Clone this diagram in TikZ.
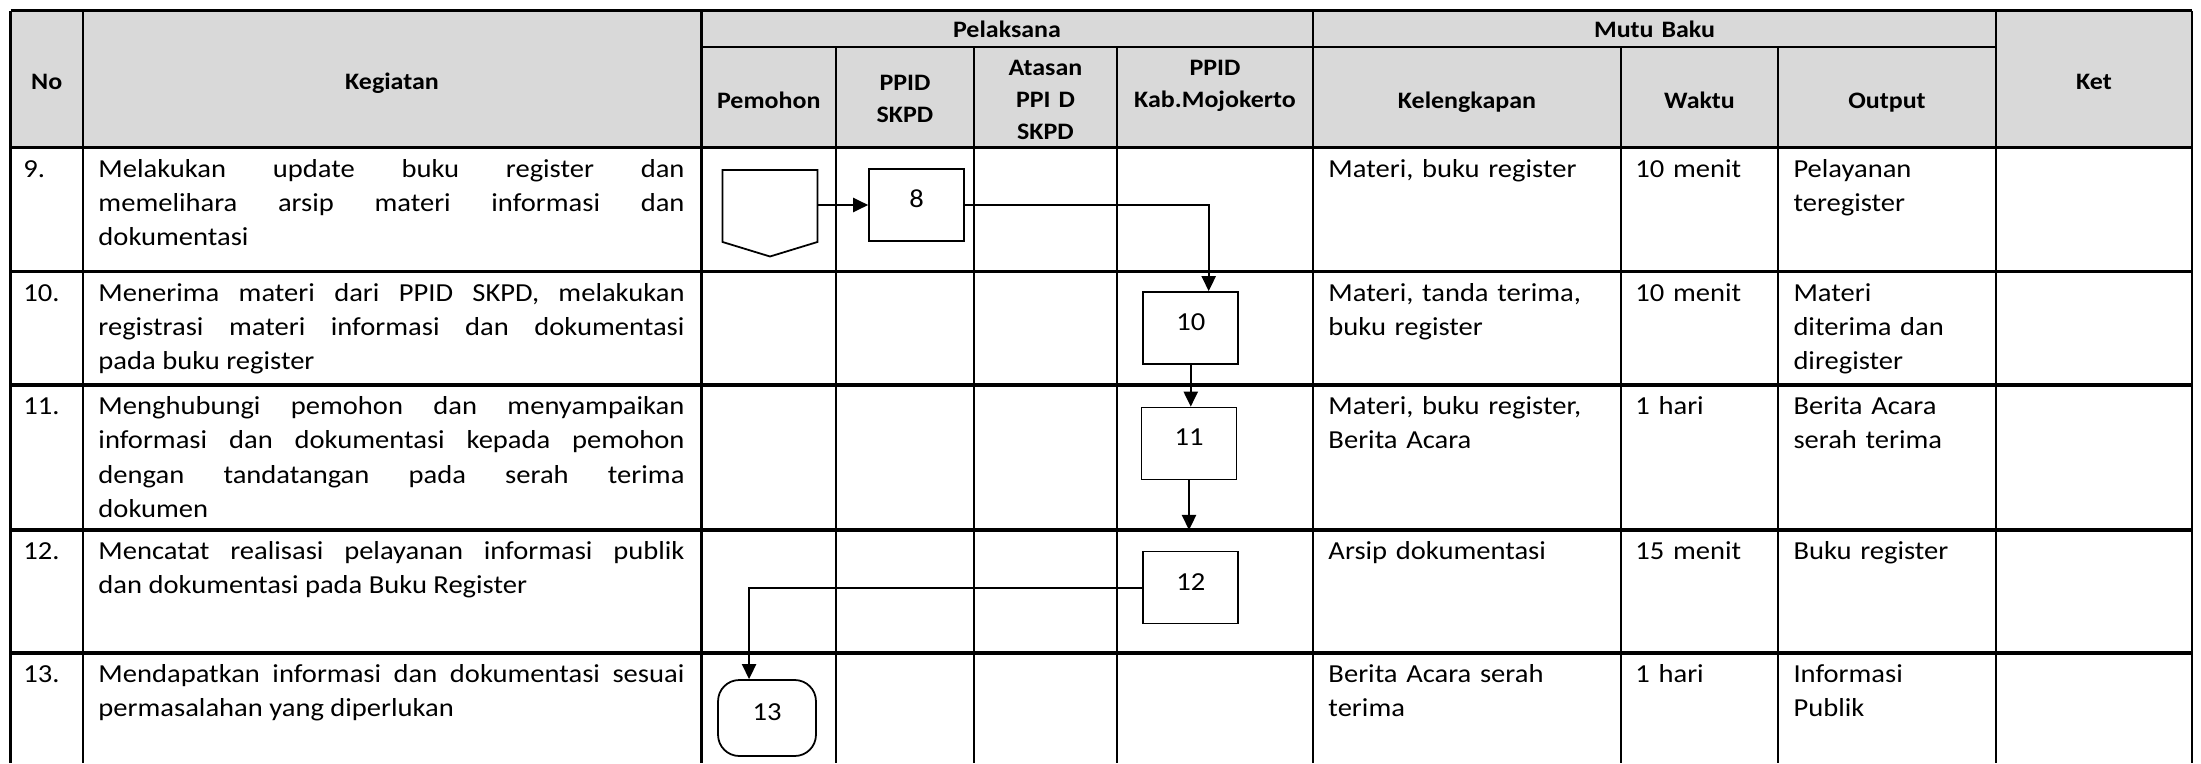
\documentclass[tikz,border=0pt]{standalone}
\usepackage{fontspec}
\setmainfont{Carlito}[FakeStretch=1.1]
\usepackage{xcolor}
\usepackage{tikz}
\usetikzlibrary{arrows.meta,shapes.symbols}
\definecolor{hdgray}{RGB}{217,217,217}
\newcommand{\bodyfont}{\fontsize{11pt}{14.6pt}\selectfont}
\newcommand{\headfont}{\fontsize{10pt}{13.6pt}\selectfont\bfseries}

\begin{document}
\begin{tikzpicture}[
  x=0.4237pt,y=-0.4237pt,
  hd/.style={anchor=base,inner sep=0pt,font=\headfont,align=center,text width=80pt},
  cell/.style={anchor=base west,inner sep=0pt,font=\bodyfont,align=left,text width=#1},
  cell/.default=120pt,
  keg/.style={cell=248.3pt,align=justify},
  grid/.style={line width=0.9pt},
  rowline/.style={line width=1.3pt},
  box/.style={draw,line width=0.75pt,minimum width=40.2pt,minimum height=30.5pt,inner sep=0pt,font=\bodyfont,text depth=5pt},
  conn/.style={draw,line width=0.75pt,signal,signal to=south,signal from=nowhere,signal pointer angle=146,minimum width=40.2pt,minimum height=30.5pt,inner sep=0pt},
  term/.style={box,rounded corners=9pt,minimum width=41.5pt,minimum height=32.2pt},
  ar/.style={-{Triangle[length=6.4pt,width=6pt]},line width=0.85pt},
]
\useasboundingbox (0,0) rectangle (2201,763);
% table grid
\fill[hdgray] (10.5,10.7) rectangle (2192,147.3);
\foreach \x in {10.5,83,701.5,1313,1996,2192} \draw[grid] (\x,10.7) -- (\x,763);
\foreach \x in {836,974,1117,1621,1778} \draw[grid] (\x,47.3) -- (\x,763);
\draw[rowline] (10.5,10.7) -- (2192,10.7);
\draw[grid] (701.5,47.3) -- (1996,47.3);
\foreach \y in {147.3,271.5,385,530,653} \draw[rowline] (10.5,\y) -- (2192,\y);
% header
\node[hd] (hno) at (46.75,89.3) {No};
\node[hd] (hkeg) at (392,89.3) {Kegiatan};
\node[hd] (hpel) at (1007,37) {Pelaksana};
\node[hd] (hmutu) at (1654.5,37) {Mutu Baku};
\node[hd] (hket) at (2094,89.3) {Ket};
\node[hd] (hpem) at (768.75,108.3) {Pemohon};
\node[hd] (hskpd) at (905,90) {PPID\\SKPD};
\node[hd] (hatas) at (1045.5,75) {Atasan\\PPI D\\SKPD};
\node[hd] (hkab) at (1215,75) {PPID\\Kab.Mojokerto};
\node[hd] (hkel) at (1467,108.3) {Kelengkapan};
\node[hd] (hwak) at (1699.5,108.3) {Waktu};
\node[hd] (hout) at (1887,108.3) {Output};
% row 9
\node[cell] (n9) at (23,177) {9.};
\node[keg] (k9) at (98,177) {Melakukan update buku register dan\linebreak memelihara arsip materi informasi dan\linebreak dokumentasi};
\node[cell] (l9) at (1328,177) {Materi, buku register};
\node[cell] (w9) at (1635,177) {10 menit};
\node[cell] (o9) at (1793,177) {Pelayanan\\teregister};
% row 10
\node[cell] (n10) at (23,301) {10.};
\node[keg] (k10) at (98,301) {Menerima materi dari PPID SKPD, melakukan\linebreak registrasi materi informasi dan dokumentasi\linebreak pada buku register};
\node[cell] (l10) at (1328,301) {Materi, tanda terima,\\buku register};
\node[cell] (w10) at (1635,301) {10 menit};
\node[cell] (o10) at (1793,301) {Materi\\diterima dan\\diregister};
% row 11
\node[cell] (n11) at (23,414.5) {11.};
\node[keg] (k11) at (98,414.5) {Menghubungi pemohon dan menyampaikan\linebreak informasi dan dokumentasi kepada pemohon\linebreak dengan tandatangan pada serah terima\linebreak dokumen};
\node[cell] (l11) at (1328,414.5) {Materi, buku register,\\Berita Acara};
\node[cell] (w11) at (1635,414.5) {1 hari};
\node[cell] (o11) at (1793,414.5) {Berita Acara\\serah terima};
% row 12
\node[cell] (n12) at (23,559.5) {12.};
\node[keg] (k12) at (98,559.5) {Mencatat realisasi pelayanan informasi publik\linebreak dan dokumentasi pada Buku Register};
\node[cell] (l12) at (1328,559.5) {Arsip dokumentasi};
\node[cell] (w12) at (1635,559.5) {15 menit};
\node[cell] (o12) at (1793,559.5) {Buku register};
% row 13
\node[cell] (n13) at (23,682.5) {13.};
\node[keg] (k13) at (98,682.5) {Mendapatkan informasi dan dokumentasi sesuai\linebreak permasalahan yang diperlukan};
\node[cell] (l13) at (1328,682.5) {Berita Acara serah\\terima};
\node[cell] (w13) at (1635,682.5) {1 hari};
\node[cell] (o13) at (1793,682.5) {Informasi\\Publik};
% flow symbols
\node[conn] (p9) at (770,206) {};
\node[box] (b8) at (916.5,205) {8};
\node[box] (b10) at (1190.75,328) {10};
\node[box] (b11) at (1189,443.5) {11};
\node[box] (b12) at (1190.75,587.5) {12};
\node[term] (t13) at (767,718) {13};
\coordinate (c12) at (1189,530);
% flow
\draw[ar] (b8.west -| p9.east) -- (b8.west);
\draw[ar] (b8.east) -| ([xshift=7.6pt]b10.north);
\draw[ar] (b10.south) -- (b10.south |- b11.north);
\draw[ar] (b11.south) -- (c12);
\draw[ar] (b12.west) -| ([xshift=-7.6pt]t13.north);
\end{tikzpicture}
\end{document}
